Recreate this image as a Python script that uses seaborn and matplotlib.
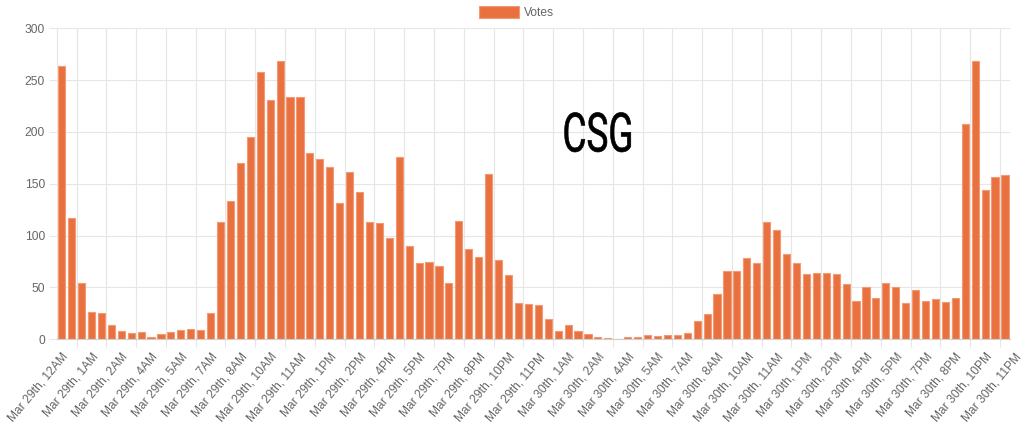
import matplotlib
matplotlib.use('Agg')
import matplotlib.pyplot as plt
import matplotlib.transforms as mtransforms
import matplotlib.patheffects as pe
from matplotlib.patches import Patch
import seaborn as sns

sns.set_style('white')
plt.rcParams['font.family'] = ['Liberation Sans', 'DejaVu Sans']

# -----------------------
# half-hour slots from Mar 29th 12AM to Mar 30th 11:30PM

slots = list(range(96))
votes = [264, 117, 54, 26, 25, 14, 8, 6, 7, 2,
         5, 7, 9, 10, 9, 25, 113, 133, 170, 195,
         258, 231, 268, 234, 234, 180, 174, 166, 131, 161,
         142, 113, 112, 98, 176, 90, 74, 75, 71, 54,
         114, 87, 79, 159, 76, 62, 35, 34, 33, 20,
         8, 14, 8, 5, 2, 1, 0, 2, 2, 4,
         3, 4, 4, 6, 18, 24, 44, 66, 66, 78,
         74, 113, 105, 82, 74, 63, 64, 64, 63, 53,
         37, 50, 40, 54, 50, 35, 48, 37, 39, 36,
         40, 208, 268, 144, 157, 158]

tick_labels = ['Mar 29th, 12AM', 'Mar 29th, 1AM', 'Mar 29th, 2AM', 'Mar 29th, 4AM',
               'Mar 29th, 5AM', 'Mar 29th, 7AM', 'Mar 29th, 8AM', 'Mar 29th, 10AM',
               'Mar 29th, 11AM', 'Mar 29th, 1PM', 'Mar 29th, 2PM', 'Mar 29th, 4PM',
               'Mar 29th, 5PM', 'Mar 29th, 7PM', 'Mar 29th, 8PM', 'Mar 29th, 10PM',
               'Mar 29th, 11PM', 'Mar 30th, 1AM', 'Mar 30th, 2AM', 'Mar 30th, 4AM',
               'Mar 30th, 5AM', 'Mar 30th, 7AM', 'Mar 30th, 8AM', 'Mar 30th, 10AM',
               'Mar 30th, 11AM', 'Mar 30th, 1PM', 'Mar 30th, 2PM', 'Mar 30th, 4PM',
               'Mar 30th, 5PM', 'Mar 30th, 7PM', 'Mar 30th, 8PM', 'Mar 30th, 10PM',
               'Mar 30th, 11PM']

BAR = '#E9713F'
EDGE = '#F29A73'
GRID = '#E6E6E6'
TXT = '#666666'
FS = 8.64  # 12px


class Squeeze(pe.AbstractPathEffect):
    """narrow the glyphs horizontally around x = cx (display px), thicken a bit"""
    def __init__(self, cx, sx=1.0, lw=1.0):
        super().__init__()
        self.cx, self.sx, self.lw = cx, sx, lw

    def draw_path(self, renderer, gc, tpath, affine, rgbFace=None):
        t = affine + mtransforms.Affine2D().translate(-self.cx, 0) \
            .scale(self.sx, 1).translate(self.cx, 0)
        gc0 = renderer.new_gc()
        gc0.copy_properties(gc)
        gc0.set_linewidth(self.lw)
        gc0.set_foreground(rgbFace if rgbFace is not None else 'black')
        renderer.draw_path(gc0, tpath, t, rgbFace)
        gc0.restore()

# -----------------------

fig = plt.figure(figsize=(10.27, 4.24), dpi=100)
ax = fig.add_axes([0.0552, 0.1998, 0.9282, 0.7335])

sns.barplot(x=slots, y=votes, orient='x', color=BAR, saturation=1,
            width=0.72, edgecolor=EDGE, linewidth=0.8, errorbar=None, ax=ax)

ax.set_xlim(-0.5, 95.5)
ax.set_ylim(0, 300)
ax.set_yticks(range(0, 301, 50))
ax.set_xlabel('')
ax.set_ylabel('')

# labels every 3 slots, grid lines in between
ax.set_xticks([-0.5 + 3 * k for k in range(len(tick_labels))], labels=tick_labels)
ax.set_xticks([1.5 + 3 * k for k in range(32)], minor=True)

ax.grid(False)
ax.xaxis.grid(True, which='minor', color=GRID, lw=0.8)
ax.yaxis.grid(True, which='major', color=GRID, lw=0.8)
ax.set_axisbelow(True)

ax.tick_params(axis='x', which='major', length=0, pad=11, labelsize=FS, labelcolor=TXT)
ax.tick_params(axis='x', which='minor', length=5.8, width=0.8, color=GRID, bottom=True)
ax.tick_params(axis='y', length=5.8, width=0.8, color=GRID, pad=2.7,
               labelsize=FS, labelcolor=TXT, left=True)

for s in ['top', 'right']:
    ax.spines[s].set_visible(False)
ax.spines['left'].set_color(GRID)
ax.spines['left'].set_linewidth(0.8)
ax.spines['bottom'].set_color('#CFCFCF')
ax.spines['bottom'].set_linewidth(0.8)

shift = mtransforms.ScaledTranslation(9.5 / 100, 0, fig.dpi_scale_trans)
for lbl in ax.get_xticklabels():
    lbl.set_rotation(50)
    lbl.set_ha('right')
    lbl.set_va('center')
    lbl.set_rotation_mode('anchor')
    lbl.set_transform(lbl.get_transform() + shift)

fig.legend(handles=[Patch(facecolor=BAR, edgecolor=EDGE, lw=0.8)], labels=['Votes'],
           loc='center', bbox_to_anchor=(0.503, 0.970), frameon=False,
           handlelength=3.33, handleheight=1.05, handletextpad=0.42,
           fontsize=FS, labelcolor=TXT, borderpad=0)

# big condensed "CSG" stamp
squeeze = Squeeze(cx=598, lw=0.45)
csg = fig.text(598 / 1027, 1 - 151.5 / 424, 'CSG', ha='center', va='baseline',
               color='black', fontsize=39, family=['Roboto', 'Liberation Sans'],
               fontweight='normal', path_effects=[squeeze])
fig.canvas.draw()
squeeze.sx = 71 / csg.get_window_extent().width

plt.savefig('out.png', dpi=100)
